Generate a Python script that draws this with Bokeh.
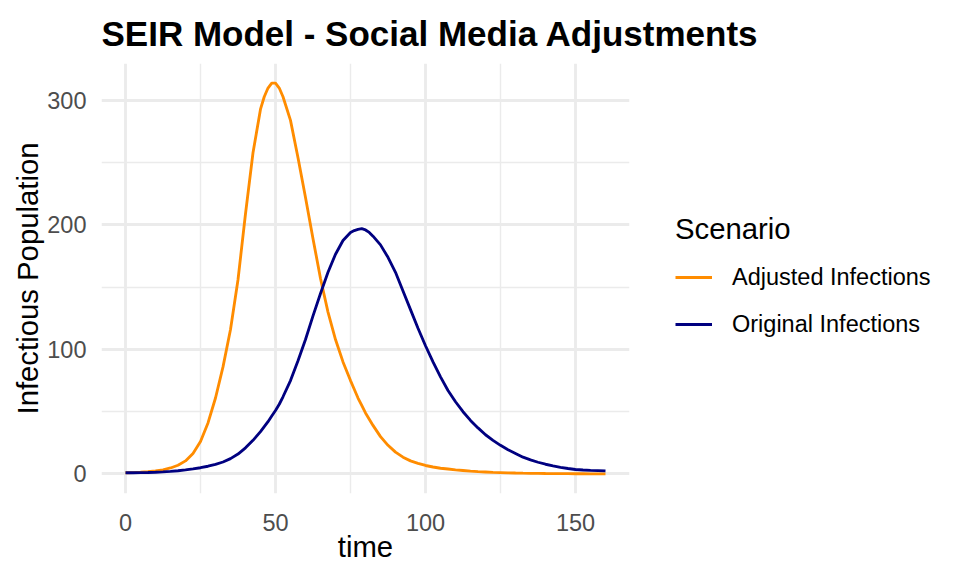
from bokeh.plotting import figure
from bokeh.models import Range1d, FixedTicker, Legend, LegendItem
from bokeh.embed import file_html
from bokeh.resources import INLINE

# ---- data ----
time = [0, 2.5, 5, 7.5, 10, 12.5, 15, 17.5, 20, 22.5, 25, 27.5, 30, 32.5, 35, 37.5,
        40, 42.5, 45, 46.25, 47.5, 48.75, 50, 51.25, 52.5, 55, 57.5, 60, 62.5, 65,
        67.5, 70, 72.5, 75, 76.25, 77.5, 78.75, 80, 81.25, 82.5, 85, 87.5, 90, 92.5,
        95, 97.5, 100, 102.5, 105, 107.5, 110, 112.5, 115, 117.5, 120, 122.5, 125,
        127.5, 130, 132.5, 135, 137.5, 140, 142.5, 145, 147.5, 150, 152.5, 155,
        157.5, 160]

adjusted = [1.0, 1.1, 1.4, 1.8, 2.4, 3.3, 4.8, 7.0, 10.5, 16.5, 26, 41, 61, 86, 116, 156,
            209, 258, 293, 303, 310, 314, 314, 310, 303, 284, 254, 222, 189, 157,
            130, 108, 90, 75, 68, 61, 55, 49, 44, 39, 30, 23, 17.5, 13.5,
            10.5, 8.5, 6.8, 5.6, 4.6, 4.0, 3.3, 2.8, 2.3, 1.9, 1.6, 1.3, 1.1,
            0.9, 0.75, 0.62, 0.52, 0.43, 0.36, 0.3, 0.25, 0.21, 0.17, 0.14, 0.12,
            0.1, 0.08]

original = [1.0, 1.0, 1.1, 1.2, 1.4, 1.7, 2.1, 2.6, 3.3, 4.1, 5.0, 6.2, 7.7, 9.6, 12.3, 16,
            21, 27, 34, 38, 42, 46.5, 51, 56, 62, 75, 91, 108, 127, 145,
            162, 176.5, 187.5, 194, 195.5, 196.5, 197, 196, 194, 191, 184, 174, 162, 147,
            132, 117, 103, 90, 78, 67, 58, 50, 43, 37, 31.5, 27, 23,
            19.5, 16.5, 13.5, 11.3, 9.4, 7.8, 6.5, 5.3, 4.4, 3.6, 3.2, 2.9,
            2.7, 2.5]

series_labels = ["Adjusted Infections", "Original Infections"]
series_colors = ["#FF8C00", "#000080"]
x_ticks = [0, 50, 100, 150]
x_minor = [25, 75, 125]
y_ticks = [0, 100, 200, 300]
y_minor = [50, 150, 250]

FONT = "Liberation Sans"

# ggplot-style 5% expansion
xlo, xhi = min(time), max(time)
xs = xhi - xlo
ylo = min(min(adjusted), min(original), 0)
yhi = max(max(adjusted), max(original))
ys = yhi - ylo

p = figure(frame_width=528, frame_height=430, output_backend="svg", toolbar_location=None,
           x_range=Range1d(xlo - 0.05 * xs, xhi + 0.05 * xs),
           y_range=Range1d(ylo - 0.05 * ys, yhi + 0.05 * ys),
           min_border_left=101, min_border_right=300,
           min_border_top=62, min_border_bottom=68)
p.outline_line_color = None
p.background_fill_color = "white"
p.border_fill_color = "white"

p.title.text = "SEIR Model - Social Media Adjustments"
p.title.text_font = FONT
p.title.text_font_size = "35px"
p.title.text_font_style = "bold"
p.title.text_color = "black"
p.title.align = "left"
p.title.standoff = 22

r1 = p.line(time, adjusted, line_color=series_colors[0], line_width=2.84)
r2 = p.line(time, original, line_color=series_colors[1], line_width=2.84)

xt = FixedTicker(ticks=x_ticks, minor_ticks=x_minor)
yt = FixedTicker(ticks=y_ticks, minor_ticks=y_minor)
p.xaxis.ticker = xt
p.yaxis.ticker = yt
p.xgrid.ticker = xt
p.ygrid.ticker = yt

for g in (p.xgrid, p.ygrid):
    g.grid_line_color = "#EBEBEB"
    g.grid_line_width = 2.84
    g.minor_grid_line_color = "#EBEBEB"
    g.minor_grid_line_width = 1.42

for ax in (p.xaxis, p.yaxis):
    ax.axis_line_color = None
    ax.major_tick_line_color = None
    ax.minor_tick_line_color = None
    ax.major_tick_out = 0
    ax.major_tick_in = 0
    ax.minor_tick_out = 0
    ax.minor_tick_in = 0
    ax.major_label_text_font = FONT
    ax.major_label_text_font_size = "23.5px"
    ax.major_label_text_color = "#4D4D4D"
    ax.axis_label_text_font = FONT
    ax.axis_label_text_font_size = "29.3px"
    ax.axis_label_text_font_style = "normal"
    ax.axis_label_text_color = "black"

p.xaxis.axis_label = "time"
p.yaxis.axis_label = "Infectious Population"
p.xaxis.major_label_standoff = 20
p.xaxis.axis_label_standoff = -4
p.yaxis.major_label_standoff = 15
p.yaxis.axis_label_standoff = 0

legend = Legend(items=[LegendItem(label=series_labels[0], renderers=[r1]),
                       LegendItem(label=series_labels[1], renderers=[r2])],
                title="Scenario", location="center_left")
legend.title_text_font = FONT
legend.title_text_font_size = "29.3px"
legend.title_text_font_style = "normal"
legend.title_text_color = "black"
legend.label_text_font = FONT
legend.label_text_font_size = "23.5px"
legend.label_text_color = "black"
legend.glyph_width = 37
legend.glyph_height = 40
legend.label_height = 40
legend.spacing = 7
legend.label_standoff = 20
legend.title_standoff = 11
legend.padding = 0
legend.margin = 46
legend.border_line_color = None
legend.background_fill_alpha = 0
p.add_layout(legend, "right")

open("out.html", "w").write(file_html(p, INLINE))
